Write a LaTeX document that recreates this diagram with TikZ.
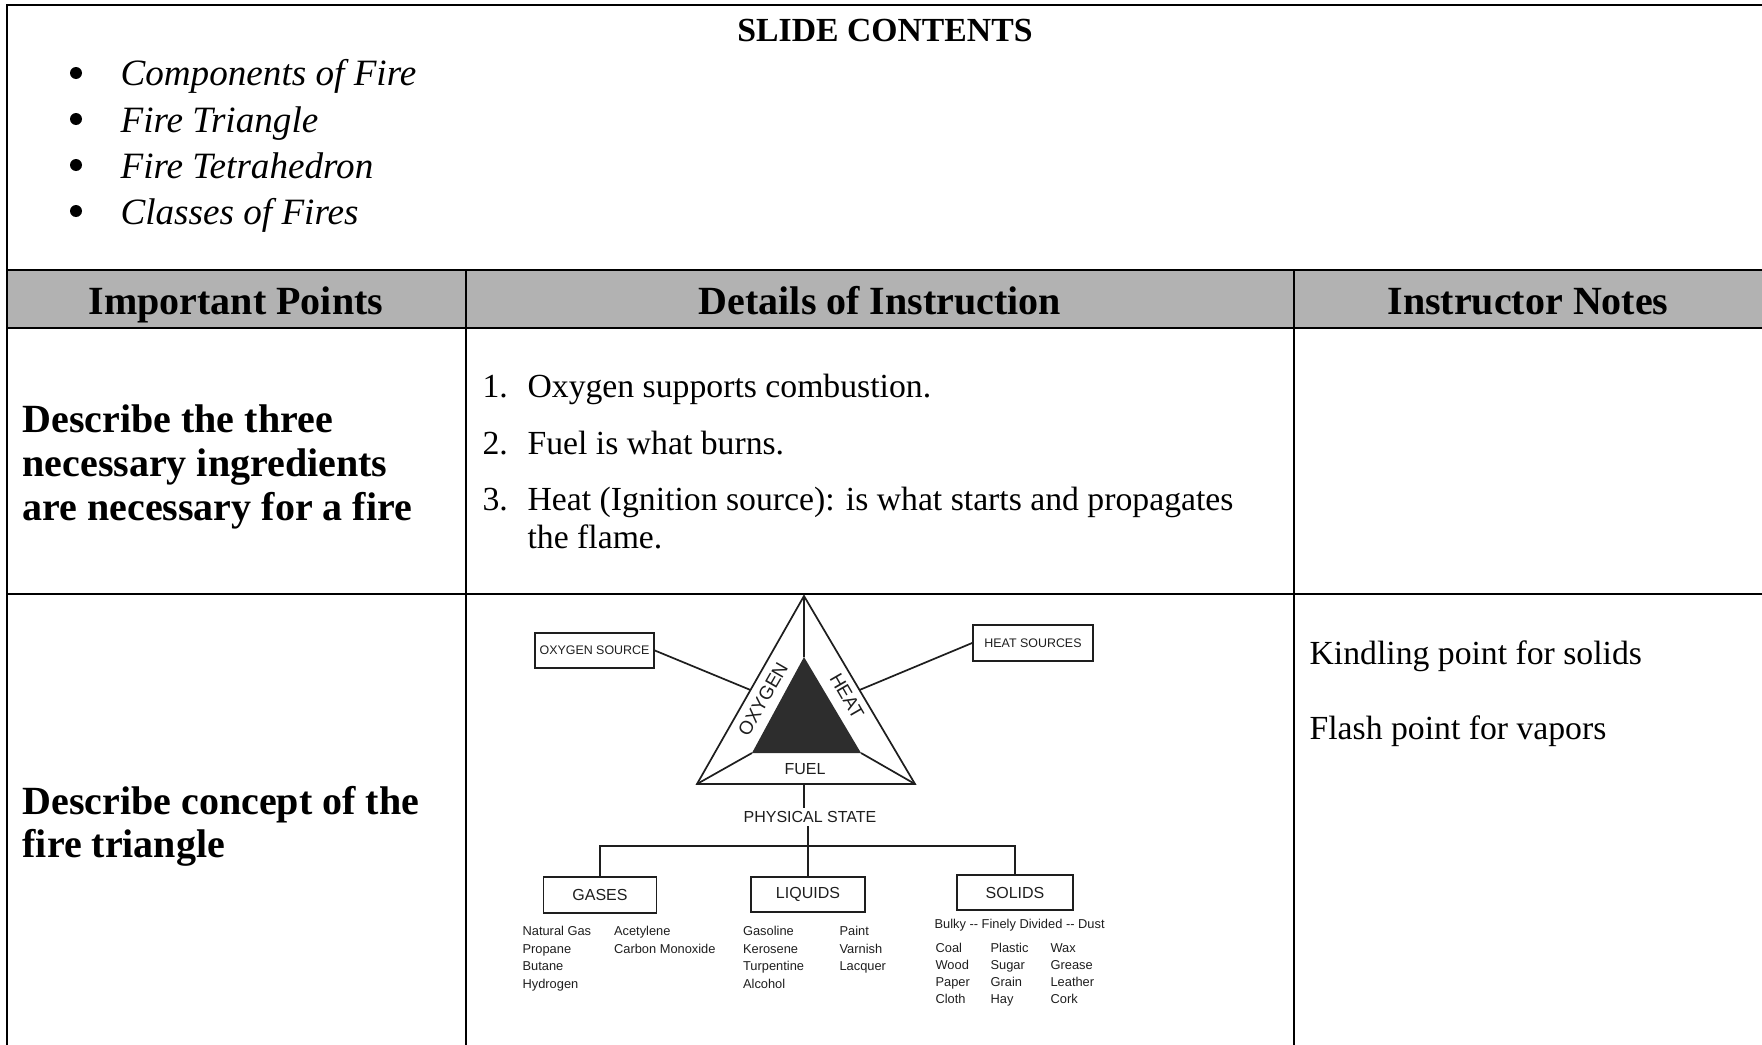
\documentclass[tikz,border=0pt]{standalone}
\usepackage{fontspec}
\setmainfont{Liberation Serif}
\newfontfamily\diagfont{Liberation Sans}
\usetikzlibrary{calc}
\definecolor{hdrgray}{RGB}{178,178,178}
\definecolor{ink}{RGB}{30,30,30}
\definecolor{darkfill}{RGB}{45,45,45}
\newcommand\fs[1]{\fontsize{#1}{#1}\selectfont}
\begin{document}
\begin{tikzpicture}[x=0.35pt,y=-0.35pt,
  tbl/.style={line width=0.7pt, line cap=rect},
  dg/.style={draw=ink, line width=0.6pt},
  tx/.style={anchor=base west, inner sep=0pt, font=\fs{11.8pt}},
  bd/.style={anchor=base west, inner sep=0pt, font=\fs{14pt}\bfseries},
  hd/.style={anchor=base, inner sep=0pt, font=\fs{14pt}\bfseries},
  it/.style={anchor=base west, inner sep=0pt, font=\fs{13pt}\itshape},
  dot/.style={circle, fill=black, inner sep=0pt, minimum size=4.2pt},
  dbox/.style={draw=ink, line width=0.6pt, inner sep=0pt, text=ink, font=\diagfont\fs{5.6pt}},
  sbox/.style={draw=ink, line width=0.6pt, inner sep=0pt, text=ink, font=\diagfont\fs{4.35pt}},
  lbl/.style={inner sep=0pt, text=ink, font=\diagfont\fs{6.6pt}},
  li/.style={anchor=base west, inner sep=0pt, text=ink, font=\diagfont\fs{4.5pt}}]
\useasboundingbox (0,0) rectangle (1762,1045);
% ---------- table ----------
\fill[hdrgray] (7,270) rectangle (1762,328);
\draw[tbl] (1762,5) -- (7,5) -- (7,1045);
\draw[tbl] (7,270) -- (1762,270);
\draw[tbl] (7,328) -- (1762,328);
\draw[tbl] (7,594) -- (1762,594);
\draw[tbl] (466,270) -- (466,1045);
\draw[tbl] (1294,270) -- (1294,1045);
% ---------- slide contents ----------
\node[anchor=base, inner sep=0pt, font=\fs{11.8pt}\bfseries] (title) at (885,41) {SLIDE CONTENTS};
\node[dot] (b1) at (76,73) {};
\node[dot] (b2) at (76,119) {};
\node[dot] (b3) at (76,165) {};
\node[dot] (b4) at (76,211) {};
\node[it] (s1) at (120,86) {Components of Fire};
\node[it] (s2) at (120,132) {Fire Triangle};
\node[it] (s3) at (120,178) {Fire Tetrahedron};
\node[it] (s4) at (120,224) {Classes of Fires};
% ---------- header ----------
\node[hd] (h1) at (236,314) {Important Points};
\node[hd] (h2) at (880,314) {Details of Instruction};
\node[hd] (h3) at (1528,314) {Instructor Notes};
% ---------- row 2 ----------
\node[bd] (p1) at (22,432) {Describe the three};
\node[bd] (p2) at (22,476) {necessary ingredients};
\node[bd] (p3) at (22,520) {are necessary for a fire};
\node[tx] (n1) at (482,397) {1.};
\node[tx] (d1) at (527,397) {Oxygen supports combustion.};
\node[tx] (n2) at (482,454) {2.};
\node[tx] (d2) at (527,454) {Fuel is what burns.};
\node[tx] (n3) at (482,510) {3.};
\node[tx] (d3) at (527,510) {Heat (Ignition source): is what starts and propagates};
\node[tx] (d4) at (527,548) {the flame.};
% ---------- row 3 ----------
\node[bd] (q1) at (22,814) {Describe concept of the};
\node[bd] (q2) at (22,857) {fire triangle};
\node[tx] (k1) at (1309,664) {Kindling point for solids};
\node[tx] (k2) at (1309,739) {Flash point for vapors};
% ---------- fire triangle diagram ----------
\coordinate (A) at (804,596);
\coordinate (L) at (697,784);
\coordinate (R) at (915,784);
\coordinate (ia) at (804,657);
\coordinate (il) at (752,753);
\coordinate (ir) at (861,753);
\fill[darkfill] (ia) -- (il) -- (ir) -- cycle;
\draw[dg, line join=miter] (A) -- (L) -- (R) -- cycle;
\draw[dg] (A) -- (ia) (L) -- (il) (R) -- (ir);
\node[lbl, rotate=60] (oxy) at (763,699) {OXYGEN};
\node[lbl, rotate=-60] (heat) at (847,696) {HEAT};
\node[lbl, font=\diagfont\fs{5.6pt}] (fuel) at (805,769) {FUEL};
\node[sbox, minimum width=41.65pt, minimum height=12.25pt] (oxs) at (594.5,650.5) {OXYGEN SOURCE};
\node[sbox, minimum width=42pt, minimum height=12.6pt] (hts) at (1033,643) {HEAT SOURCES};
\coordinate (lm) at ($(L)!0.5!(A)$);
\coordinate (rm) at ($(R)!0.5!(A)$);
\draw[dg] (oxs.east) -- (lm);
\draw[dg] (hts.west) -- (rm);
\coordinate (B) at (804,784);
\node[lbl, inner sep=1pt, font=\diagfont\fs{5.6pt}] (ps) at (810,817) {PHYSICAL STATE};
\draw[dg] (B) -- (B |- ps.north);
\node[dbox, minimum width=39.55pt, minimum height=12.6pt] (gas) at (600,895) {GASES};
\node[dbox, minimum width=39.9pt, minimum height=12.25pt] (liq) at (808,894.5) {LIQUIDS};
\node[dbox, minimum width=40.6pt, minimum height=12.25pt] (sol) at (1015,892.5) {SOLIDS};
\coordinate (jl) at (600,846);
\coordinate (jr) at (1015,846);
\draw[dg] (ps.south -| liq.north) -- (liq.north);
\draw[dg] (gas.north) -- (jl) -- (jr) -- (sol.north);
% lists
\node[li] (g1) at (522,935.5) {Natural Gas};
\node[li] (g2) at (522,953.2) {Propane};
\node[li] (g3) at (522,970.9) {Butane};
\node[li] (g4) at (522,988.6) {Hydrogen};
\node[li] (g5) at (613.5,935.5) {Acetylene};
\node[li] (g6) at (613.5,953.2) {Carbon Monoxide};
\node[li] (l1) at (742.5,935.5) {Gasoline};
\node[li] (l2) at (742.5,953.2) {Kerosene};
\node[li] (l3) at (742.5,970.9) {Turpentine};
\node[li] (l4) at (742.5,988.6) {Alcohol};
\node[li] (l5) at (839,935.5) {Paint};
\node[li] (l6) at (839,953.2) {Varnish};
\node[li] (l7) at (839,970.9) {Lacquer};
\node[li] (sb) at (934,928) {Bulky -- Finely Divided -- Dust};
\node[li] (c1) at (935,952) {Coal};
\node[li] (c2) at (935,969.3) {Wood};
\node[li] (c3) at (935,986.6) {Paper};
\node[li] (c4) at (935,1003.9) {Cloth};
\node[li] (c5) at (990,952) {Plastic};
\node[li] (c6) at (990,969.3) {Sugar};
\node[li] (c7) at (990,986.6) {Grain};
\node[li] (c8) at (990,1003.9) {Hay};
\node[li] (c9) at (1050,952) {Wax};
\node[li] (c10) at (1050,969.3) {Grease};
\node[li] (c11) at (1050,986.6) {Leather};
\node[li] (c12) at (1050,1003.9) {Cork};
\end{tikzpicture}
\end{document}
